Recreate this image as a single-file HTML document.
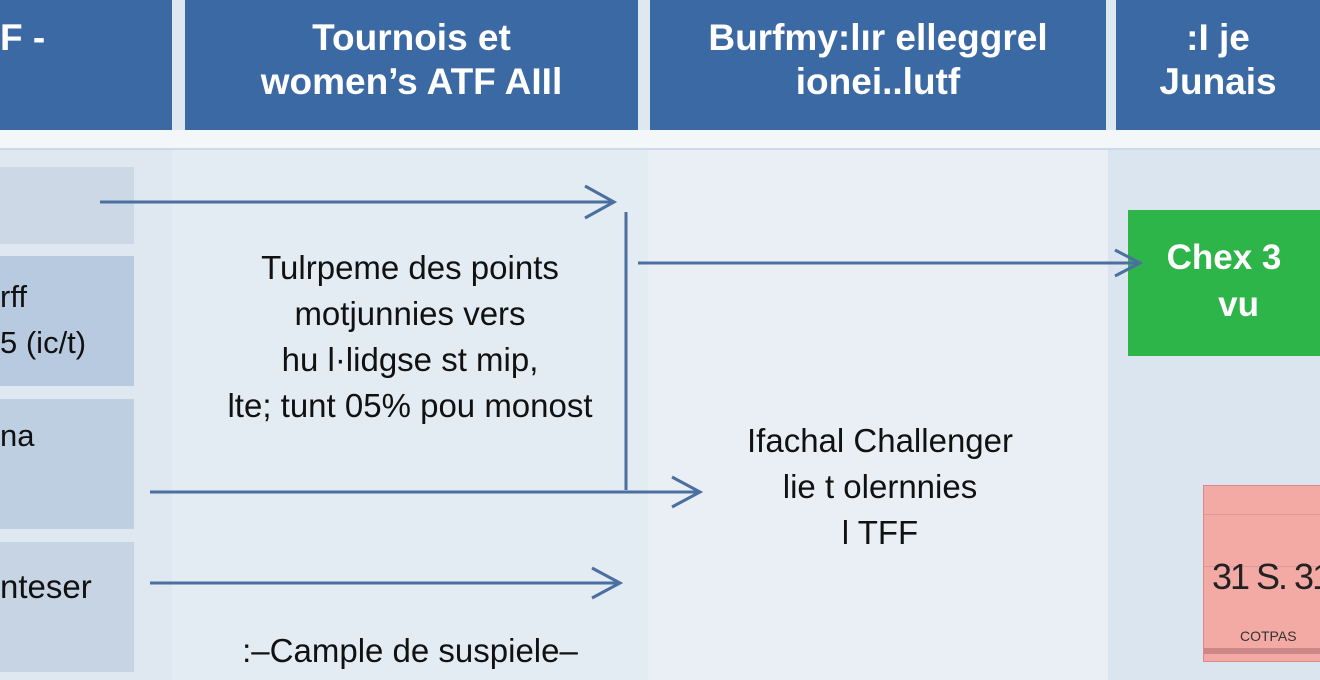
<!DOCTYPE html>
<html><head><meta charset="utf-8"><style>
body{margin:0;width:1320px;height:680px;overflow:hidden;background:#dfe7f0;font-family:"Liberation Sans",sans-serif;position:relative}
.a{position:absolute}
.h{background:#3b69a3;color:#fff;font-weight:bold;font-size:37px;text-align:center;line-height:44px;top:0;height:130px;box-sizing:border-box;padding-top:16px}
.lb{left:0;width:134px;background:#c3d2e3}
.t{color:#111;font-size:33px;text-align:center;line-height:46px}
</style></head><body>
<div class="a" style="left:0;top:130px;width:1320px;height:20px;background:#f4f7fa"></div>
<div class="a" style="left:0;top:148px;width:1320px;height:2px;background:#cdd9e6"></div>
<div class="a" style="left:172px;top:150px;width:476px;height:530px;background:#e3ebf3"></div>
<div class="a" style="left:648px;top:150px;width:460px;height:530px;background:#eaeff5"></div>
<div class="a" style="left:1108px;top:150px;width:212px;height:530px;background:#dbe5ef"></div>
<div class="a h" style="left:0;width:172px;text-align:left">F -</div>
<div class="a h" style="left:185px;width:453px">Tournois et<br>women’s ATF AIIl</div>
<div class="a h" style="left:650px;width:456px">Burfmy:lır elleggrel<br>ionei..lutf</div>
<div class="a h" style="left:1116px;width:204px">:I je<br>Junais</div>
<div class="a lb" style="top:167px;height:77px;background:#ccd8e6"></div>
<div class="a lb" style="top:256px;height:130px;background:#b8cae0"></div>
<div class="a lb" style="top:399px;height:130px;background:#bfcfe2"></div>
<div class="a lb" style="top:542px;height:130px;background:#c6d4e4"></div>
<div class="a" style="left:0;top:274px;font-size:31px;color:#111;line-height:46px">rff<br>5 (ic/t)</div>
<div class="a" style="left:0;top:418px;font-size:31px;color:#111">na</div>
<div class="a" style="left:0;top:568px;font-size:33px;color:#111">nteser</div>
<div class="a t" style="left:185px;top:245px;width:450px">Tulrpeme des points<br>motjunnies vers<br>hu l·lidgse st mip,<br>lte; tunt 05% pou monost</div>
<div class="a t" style="left:660px;top:418px;width:440px">Ifachal Challenger<br>lie t olernnies<br>l TFF</div>
<div class="a t" style="left:185px;top:628px;width:450px">:–Camplе de suspiele–</div>
<div class="a" style="left:1128px;top:210px;width:192px;height:146px;background:#2db54a;color:#fff;font-weight:bold;font-size:35px;text-align:center;line-height:47px;padding-top:24px;box-sizing:border-box">Chex 3<br>&nbsp;&nbsp;&nbsp;vu</div>
<div class="a" style="left:1203px;top:485px;width:117px;height:175px;background:#f4aaa4;border:1px solid #d88;overflow:hidden">
<div class="a" style="left:0;top:28px;width:117px;height:1px;background:#d99"></div>
<div class="a" style="left:0;top:80px;width:117px;height:1px;background:#d99"></div>
<div class="a" style="left:8px;top:70px;font-size:36px;color:#222;white-space:nowrap;letter-spacing:-2px">31 S. 31</div>
<div class="a" style="left:36px;top:142px;font-size:14px;color:#333;white-space:nowrap">COTPAS</div>
<div class="a" style="left:0;top:162px;width:117px;height:6px;background:#c88"></div>
</div>
<svg class="a" style="left:0;top:0" width="1320" height="680">
<g stroke="#4a6fa0" stroke-width="3" fill="none">
<line x1="100" y1="202" x2="612" y2="202"/><polyline points="585,186 614,202 585,218"/>
<line x1="626" y1="212" x2="626" y2="490"/>
<line x1="638" y1="263" x2="1138" y2="263"/><polyline points="1115,250 1140,263 1115,276"/>
<line x1="150" y1="492" x2="698" y2="492"/><polyline points="672,477 700,492 672,507"/>
<line x1="150" y1="583" x2="618" y2="583"/><polyline points="592,568 620,583 592,598"/>
</g>
</svg>
</body></html>
